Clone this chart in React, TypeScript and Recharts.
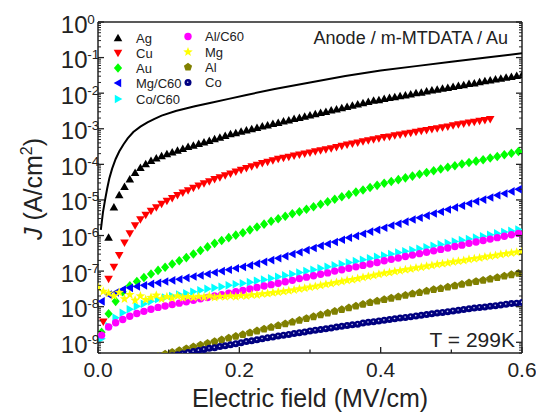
import React from 'react';
import { ScatterChart, Scatter, XAxis, YAxis } from 'recharts';

// Electric field grids (MV/cm)
const fieldA = [0,0.0075,0.015,0.0225,0.03,0.0375,0.045,0.0525,0.06,0.0675,0.075,0.0825,0.09,0.0975,0.105,0.1125,0.12,0.1275,0.135,0.1425,0.15,0.1575,0.165,0.1725,0.18,0.1875,0.195,0.2025,0.21,0.2175,0.225,0.2325,0.24,0.2475,0.255,0.2625,0.27,0.2775,0.285,0.2925,0.3,0.3075,0.315,0.3225,0.33,0.3375,0.345,0.3525,0.36,0.3675,0.375,0.3825,0.39,0.3975,0.405,0.4125,0.42,0.4275,0.435,0.4425,0.45,0.4575,0.465,0.4725,0.48,0.4875,0.495,0.5025,0.51,0.5175,0.525,0.5325,0.54,0.5475,0.555,0.5625,0.57,0.5775,0.585,0.5925,0.6];
const fieldB = [0.005,0.015,0.025,0.035,0.045,0.055,0.065,0.075,0.085,0.095,0.105,0.115,0.125,0.135,0.145,0.155,0.165,0.175,0.185,0.195,0.205,0.215,0.225,0.235,0.245,0.255,0.265,0.275,0.285,0.295,0.305,0.315,0.325,0.335,0.345,0.355,0.365,0.375,0.385,0.395,0.405,0.415,0.425,0.435,0.445,0.455,0.465,0.475,0.485,0.495,0.505,0.515,0.525,0.535,0.545,0.555,0.565,0.575,0.585,0.595];

// log10 of J (A/cm^2)
const agLog = [null,null,-6.06,-5.21,-4.86,-4.63,-4.42,-4.24,-4.10,-3.99,-3.90,-3.83,-3.77,-3.71,-3.66,-3.61,-3.56,-3.51,-3.47,-3.42,-3.38,-3.34,-3.29,-3.25,-3.20,-3.15,-3.12,-3.08,-3.04,-3.01,-2.97,-2.93,-2.90,-2.86,-2.83,-2.79,-2.76,-2.72,-2.69,-2.66,-2.62,-2.59,-2.55,-2.52,-2.48,-2.45,-2.42,-2.38,-2.35,-2.31,-2.28,-2.24,-2.21,-2.19,-2.16,-2.13,-2.11,-2.08,-2.06,-2.03,-2.00,-1.98,-1.95,-1.92,-1.90,-1.87,-1.85,-1.82,-1.79,-1.77,-1.74,-1.72,-1.69,-1.66,-1.64,-1.61,-1.59,-1.56,-1.54,-1.51,-1.49];
const cuLog = [null,-8.42,-7.22,-6.88,-6.55,-6.20,-5.94,-5.72,-5.55,-5.42,-5.31,-5.21,-5.11,-5.03,-4.95,-4.87,-4.80,-4.73,-4.66,-4.60,-4.54,-4.48,-4.42,-4.37,-4.31,-4.26,-4.21,-4.16,-4.11,-4.06,-4.02,-3.97,-3.93,-3.89,-3.85,-3.82,-3.79,-3.76,-3.73,-3.70,-3.67,-3.64,-3.61,-3.58,-3.55,-3.52,-3.48,-3.45,-3.42,-3.39,-3.36,-3.33,-3.30,-3.27,-3.24,-3.22,-3.19,-3.17,-3.14,-3.12,-3.09,-3.06,-3.04,-3.01,-2.99,-2.96,-2.94,-2.91,-2.88,-2.86,-2.83,-2.81,-2.78,-2.76,-2.73,null,null,null,null,null,null];
const mgLog = [-7.45,-7.57,-7.62,-7.70,-7.60,-7.78,-7.66,-7.82,-7.70,-7.80,-7.74,-7.68,-7.78,-7.72,-7.76,-7.70,-7.75,-7.72,-7.74,-7.71,-7.73,-7.70,-7.74,-7.71,-7.72,-7.70,-7.72,-7.69,-7.70,-7.67,-7.67,-7.64,-7.63,-7.61,-7.59,-7.57,-7.55,-7.53,-7.50,-7.48,-7.45,-7.43,-7.40,-7.37,-7.35,-7.32,-7.29,-7.26,-7.24,-7.21,-7.18,-7.15,-7.12,-7.09,-7.06,-7.04,-7.01,-6.99,-6.96,-6.94,-6.91,-6.89,-6.86,-6.84,-6.81,-6.79,-6.77,-6.74,-6.72,-6.70,-6.67,-6.65,-6.63,-6.60,-6.58,-6.56,-6.53,-6.51,-6.49,-6.47,-6.45];
const coLog = [null,null,null,null,null,null,null,null,null,null,null,null,null,null,-9.38,-9.35,-9.32,-9.29,-9.26,-9.23,-9.20,-9.17,-9.15,-9.12,-9.10,-9.07,-9.04,-9.01,-8.98,-8.96,-8.93,-8.90,-8.87,-8.85,-8.82,-8.80,-8.78,-8.75,-8.73,-8.71,-8.68,-8.66,-8.64,-8.62,-8.60,-8.57,-8.55,-8.53,-8.51,-8.49,-8.46,-8.44,-8.42,-8.40,-8.38,-8.36,-8.34,-8.32,-8.30,-8.28,-8.26,-8.24,-8.22,-8.20,-8.18,-8.16,-8.14,-8.12,-8.10,-8.08,-8.06,-8.04,-8.02,-8.01,-7.99,-7.97,-7.95,-7.93,-7.91,-7.90,-7.88];
const auLog = [-8.72,-8.20,-7.85,-7.58,-7.41,-7.29,-7.18,-7.08,-6.98,-6.89,-6.80,-6.71,-6.62,-6.52,-6.42,-6.32,-6.22,-6.14,-6.06,-5.99,-5.92,-5.84,-5.76,-5.68,-5.60,-5.53,-5.46,-5.39,-5.33,-5.26,-5.19,-5.12,-5.05,-4.98,-4.91,-4.85,-4.78,-4.72,-4.65,-4.59,-4.53,-4.48,-4.43,-4.38,-4.33,-4.28,-4.23,-4.18,-4.13,-4.08,-4.04,-3.99,-3.95,-3.91,-3.87,-3.82,-3.78,-3.73,-3.69,-3.64];
const mgC60Log = [-7.85,-7.66,-7.60,-7.52,-7.47,-7.43,-7.40,-7.36,-7.33,-7.29,-7.26,-7.23,-7.19,-7.15,-7.12,-7.08,-7.04,-7.00,-6.96,-6.92,-6.88,-6.84,-6.79,-6.74,-6.69,-6.64,-6.58,-6.52,-6.47,-6.41,-6.35,-6.29,-6.24,-6.18,-6.12,-6.06,-6.01,-5.95,-5.89,-5.84,-5.78,-5.72,-5.67,-5.61,-5.55,-5.50,-5.44,-5.38,-5.33,-5.27,-5.21,-5.16,-5.10,-5.04,-4.99,-4.93,-4.87,-4.82,-4.76,-4.70];
const coC60Log = [-8.90,-8.55,-8.31,-8.17,-8.07,-7.99,-7.92,-7.85,-7.79,-7.74,-7.70,-7.66,-7.62,-7.58,-7.54,-7.50,-7.47,-7.44,-7.40,-7.37,-7.34,-7.31,-7.27,-7.24,-7.20,-7.16,-7.12,-7.08,-7.04,-7.00,-6.96,-6.92,-6.88,-6.84,-6.80,-6.76,-6.72,-6.68,-6.64,-6.60,-6.56,-6.52,-6.48,-6.44,-6.41,-6.37,-6.33,-6.29,-6.25,-6.21,-6.17,-6.13,-6.10,-6.06,-6.02,-5.98,-5.94,-5.90,-5.87,-5.83];
const alC60Log = [-8.80,-8.57,-8.45,-8.36,-8.27,-8.19,-8.13,-8.07,-8.02,-7.98,-7.94,-7.90,-7.86,-7.82,-7.78,-7.74,-7.70,-7.66,-7.62,-7.58,-7.54,-7.50,-7.46,-7.42,-7.38,-7.34,-7.30,-7.26,-7.21,-7.17,-7.13,-7.09,-7.05,-7.00,-6.96,-6.92,-6.88,-6.84,-6.80,-6.76,-6.71,-6.67,-6.63,-6.59,-6.55,-6.51,-6.47,-6.43,-6.39,-6.35,-6.31,-6.27,-6.22,-6.18,-6.14,-6.10,-6.06,-6.02,-5.98,-5.94];
const alLog = [null,null,null,null,null,null,null,null,-9.40,-9.33,-9.28,-9.23,-9.18,-9.13,-9.08,-9.03,-8.98,-8.93,-8.88,-8.83,-8.78,-8.73,-8.68,-8.63,-8.58,-8.53,-8.48,-8.43,-8.38,-8.33,-8.28,-8.23,-8.18,-8.13,-8.08,-8.03,-7.98,-7.93,-7.88,-7.84,-7.80,-7.76,-7.72,-7.68,-7.64,-7.60,-7.56,-7.52,-7.49,-7.45,-7.41,-7.37,-7.33,-7.29,-7.26,-7.22,-7.18,-7.14,-7.10,-7.06];

// fitted curve
const fitField = [0.004,0.007,0.010,0.013,0.016,0.020,0.025,0.030,0.036,0.042,0.050,0.060,0.070,0.080,0.090,0.110,0.137,0.160,0.185,0.210,0.250,0.300,0.350,0.400,0.450,0.500,0.550,0.600];
const fitLog = [-5.84,-5.35,-5.00,-4.68,-4.40,-4.12,-3.85,-3.64,-3.44,-3.27,-3.09,-2.94,-2.82,-2.72,-2.63,-2.50,-2.37,-2.27,-2.16,-2.05,-1.88,-1.70,-1.52,-1.36,-1.24,-1.12,-1.00,-0.88];

// axes
const xMajorTicks = [0, 0.2, 0.4, 0.6];
const xMajorLabels = ['0.0', '0.2', '0.4', '0.6'];
const xMinorTicks = [0.1, 0.3, 0.5];
const yDecades = [-9, -8, -7, -6, -5, -4, -3, -2, -1, 0];
const yMinorMultipliers = [2, 3, 4, 5, 6, 7, 8, 9];
const Y_MIN = 5.0e-10;
const Y_MAX = 1;

const FONT = '"Liberation Sans", Arial, Helvetica, sans-serif';
const INK = '#222';

const xTicks = [...xMajorTicks, ...xMinorTicks].sort((a, b) => a - b);
const yTicks: number[] = [];
yDecades.forEach((d) => {
  yTicks.push(Math.pow(10, d));
  if (d < 0) yMinorMultipliers.forEach((m) => yTicks.push(m * Math.pow(10, d)));
});
yTicks.push(...yMinorMultipliers.map((m) => m * Math.pow(10, -10)));
const yTicksInDomain = yTicks.filter((v) => v >= Y_MIN && v <= Y_MAX).sort((a, b) => a - b);

const toPts = (xs: number[], logs: (number | null)[]) =>
  xs
    .map((x, i) => (logs[i] == null ? null : { x, y: Math.pow(10, logs[i] as number) }))
    .filter(Boolean) as { x: number; y: number }[];

type Kind = 'up' | 'down' | 'left' | 'right' | 'diamond' | 'circle' | 'star' | 'pentagon' | 'ball';

const series: { name: string; kind: Kind; color: string; data: { x: number; y: number }[] }[] = [
  { name: 'Ag', kind: 'up', color: '#000000', data: toPts(fieldA, agLog) },
  { name: 'Cu', kind: 'down', color: '#ff0000', data: toPts(fieldA, cuLog) },
  { name: 'Au', kind: 'diamond', color: '#00ff00', data: toPts(fieldB, auLog) },
  { name: 'Mg/C60', kind: 'left', color: '#0000ff', data: toPts(fieldB, mgC60Log) },
  { name: 'Co/C60', kind: 'right', color: '#00ffff', data: toPts(fieldB, coC60Log) },
  { name: 'Al/C60', kind: 'circle', color: '#ff00ff', data: toPts(fieldB, alC60Log) },
  { name: 'Mg', kind: 'star', color: '#ffff00', data: toPts(fieldA, mgLog) },
  { name: 'Al', kind: 'pentagon', color: '#808000', data: toPts(fieldB, alLog) },
  { name: 'Co', kind: 'ball', color: '#000080', data: toPts(fieldA, coLog) },
];
const fitData = toPts(fitField, fitLog);

const polyPts = (cx: number, cy: number, n: number, r: number, r2?: number) => {
  const pts: string[] = [];
  const count = r2 ? n * 2 : n;
  for (let i = 0; i < count; i++) {
    const a = -Math.PI / 2 + (i * 2 * Math.PI) / count;
    const rr = r2 && i % 2 === 1 ? r2 : r;
    pts.push(`${cx + rr * Math.cos(a)},${cy + rr * Math.sin(a)}`);
  }
  return pts.join(' ');
};

function Marker({ cx, cy, kind, color }: { cx: number; cy: number; kind: Kind; color: string }) {
  if (cx == null || cy == null || isNaN(cx) || isNaN(cy)) return null;
  switch (kind) {
    case 'up':
      return <polygon points={`${cx},${cy - 4.3} ${cx + 4.3},${cy + 3.2} ${cx - 4.3},${cy + 3.2}`} fill={color} />;
    case 'down':
      return <polygon points={`${cx},${cy + 4.3} ${cx + 4.3},${cy - 3.2} ${cx - 4.3},${cy - 3.2}`} fill={color} />;
    case 'left':
      return <polygon points={`${cx - 4.3},${cy} ${cx + 3.2},${cy - 4.3} ${cx + 3.2},${cy + 4.3}`} fill={color} />;
    case 'right':
      return <polygon points={`${cx + 4.3},${cy} ${cx - 3.2},${cy - 4.3} ${cx - 3.2},${cy + 4.3}`} fill={color} />;
    case 'diamond':
      return <polygon points={`${cx},${cy - 4.8} ${cx + 4.1},${cy} ${cx},${cy + 4.8} ${cx - 4.1},${cy}`} fill={color} />;
    case 'circle':
      return <circle cx={cx} cy={cy} r={3.7} fill={color} />;
    case 'star':
      return <polygon points={polyPts(cx, cy, 5, 5, 2.1)} fill={color} />;
    case 'pentagon':
      return <polygon points={polyPts(cx, cy, 5, 4.3)} fill={color} />;
    case 'ball':
      return (
        <g>
          <circle cx={cx} cy={cy} r={3.5} fill={color} />
          <circle cx={cx - 0.3} cy={cy - 0.3} r={0.8} fill="#d0d0ee" />
        </g>
      );
  }
  return null;
}

const isDecade = (v: number) => Math.abs(Math.log10(v) - Math.round(Math.log10(v))) < 1e-6;

const BottomTick = (p: any) => {
  const { x, y, payload } = p;
  const v = payload.value;
  const idx = xMajorTicks.findIndex((t) => Math.abs(t - v) < 1e-9);
  const major = idx >= 0;
  return (
    <g>
      <line x1={x} x2={x} y1={y} y2={y - (major ? 6 : 3.5)} stroke={INK} strokeWidth={1.3} />
      {major && (
        <text x={x} y={y + 24.3} textAnchor="middle" fontFamily={FONT} fontSize={21} fill={INK}>
          {xMajorLabels[idx]}
        </text>
      )}
    </g>
  );
};

const TopTick = (p: any) => {
  const { x, y, payload } = p;
  const major = xMajorTicks.some((t) => Math.abs(t - payload.value) < 1e-9);
  return <line x1={x} x2={x} y1={y} y2={y + (major ? 6 : 3.5)} stroke={INK} strokeWidth={1.3} />;
};

const LeftTick = (p: any) => {
  const { x, y, payload } = p;
  const v = payload.value;
  const major = isDecade(v);
  const exp = Math.round(Math.log10(v));
  return (
    <g>
      <line x1={x} x2={x + (major ? 6 : 3)} y1={y} y2={y} stroke={INK} strokeWidth={major ? 1.3 : 1} />
      {major && (
        <g fontFamily={FONT} fill={INK}>
          <text x={79.5} y={y + 10.5} textAnchor="end" fontSize={24}>
            10
          </text>
          <text x={79.2} y={y + 1.5} textAnchor="start" fontSize={13.5}>
            {String(exp)}
          </text>
        </g>
      )}
    </g>
  );
};

const RightTick = (p: any) => {
  const { x, y, payload } = p;
  const major = isDecade(payload.value);
  return <line x1={x} x2={x - (major ? 6 : 3)} y1={y} y2={y} stroke={INK} strokeWidth={major ? 1.3 : 1} />;
};

const legendCol1 = ['Ag', 'Cu', 'Au', 'Mg/C60', 'Co/C60'];
const legendCol2 = ['Al/C60', 'Mg', 'Al', 'Co'];
const legendRows1 = [30, 45, 60, 75, 91];
const legendRows2 = [28.5, 44, 59, 74.5];

export default function App() {
  const W = 536;
  const H = 404;
  const axisLine = { stroke: INK, strokeWidth: 1.5 };
  return (
    <div style={{ position: 'relative', width: W, height: H }}>
      <ScatterChart width={W} height={H} margin={{ top: 0, right: 0, bottom: 0, left: 0 }}>
        <XAxis
          dataKey="x"
          type="number"
          domain={[0, 0.6]}
          ticks={xTicks}
          interval={0}
          tickSize={0}
          tickMargin={0}
          tickLine={false}
          axisLine={axisLine}
          tick={BottomTick}
          height={59}
          allowDataOverflow
        />
        <XAxis
          xAxisId="top"
          orientation="top"
          type="number"
          domain={[0, 0.6]}
          ticks={xTicks}
          interval={0}
          tickSize={0}
          tickMargin={0}
          tickLine={false}
          axisLine={axisLine}
          tick={TopTick}
          height={14}
          allowDataOverflow
        />
        <YAxis
          dataKey="y"
          type="number"
          scale="log"
          domain={[Y_MIN, Y_MAX]}
          ticks={yTicksInDomain}
          interval={0}
          tickSize={0}
          tickMargin={0}
          tickLine={false}
          axisLine={axisLine}
          tick={LeftTick}
          width={90}
          allowDataOverflow
        />
        <YAxis
          yAxisId="right"
          orientation="right"
          type="number"
          scale="log"
          domain={[Y_MIN, Y_MAX]}
          ticks={yTicksInDomain}
          interval={0}
          tickSize={0}
          tickMargin={0}
          tickLine={false}
          axisLine={axisLine}
          tick={RightTick}
          width={22}
          allowDataOverflow
        />
        <Scatter
          name="fit"
          data={fitData}
          fill="#000"
          line={{ stroke: '#000', strokeWidth: 2 }}
          lineType="joint"
          shape={() => <g />}
          isAnimationActive={false}
        />
        {series.map((s) => (
          <Scatter
            key={s.name}
            name={s.name}
            data={s.data}
            fill={s.color}
            shape={(p: any) => <Marker cx={p.cx} cy={p.cy} kind={s.kind} color={s.color} />}
            isAnimationActive={false}
          />
        ))}
      </ScatterChart>
      <svg
        width={W}
        height={H}
        style={{ position: 'absolute', left: 0, top: 0, pointerEvents: 'none' }}
        fontFamily={FONT}
      >
        {legendCol1.map((n, i) => {
          const s = series.find((q) => q.name === n)!;
          return (
            <g key={n}>
              <Marker cx={110} cy={legendRows1[i]} kind={s.kind} color={s.color} />
              <text x={128} y={legendRows1[i]} dominantBaseline="central" fontSize={13} fill={INK}>
                {n}
              </text>
            </g>
          );
        })}
        {legendCol2.map((n, i) => {
          const s = series.find((q) => q.name === n)!;
          return (
            <g key={n}>
              <Marker cx={180} cy={legendRows2[i]} kind={s.kind} color={s.color} />
              <text x={197} y={legendRows2[i]} dominantBaseline="central" fontSize={13} fill={INK}>
                {n}
              </text>
            </g>
          );
        })}
        <text x={500} y={30} textAnchor="end" dominantBaseline="central" fontSize={18} fill={INK}>
          Anode / m-MTDATA / Au
        </text>
        <text x={507} y={331} textAnchor="end" dominantBaseline="central" fontSize={21} fill={INK}>
          T = 299K
        </text>
        <text x={302} y={398.5} textAnchor="middle" fontSize={25} fill={INK}>
          Electric field (MV/cm)
        </text>
        <text x={34} y={181} textAnchor="middle" fontSize={25} fill={INK} transform="rotate(-90 34 181)">
          <tspan fontStyle="italic">J</tspan>
          <tspan> (A/cm</tspan>
          <tspan fontSize={16} dy={-10}>2</tspan>
          <tspan dy={10}>)</tspan>
        </text>
      </svg>
    </div>
  );
}
